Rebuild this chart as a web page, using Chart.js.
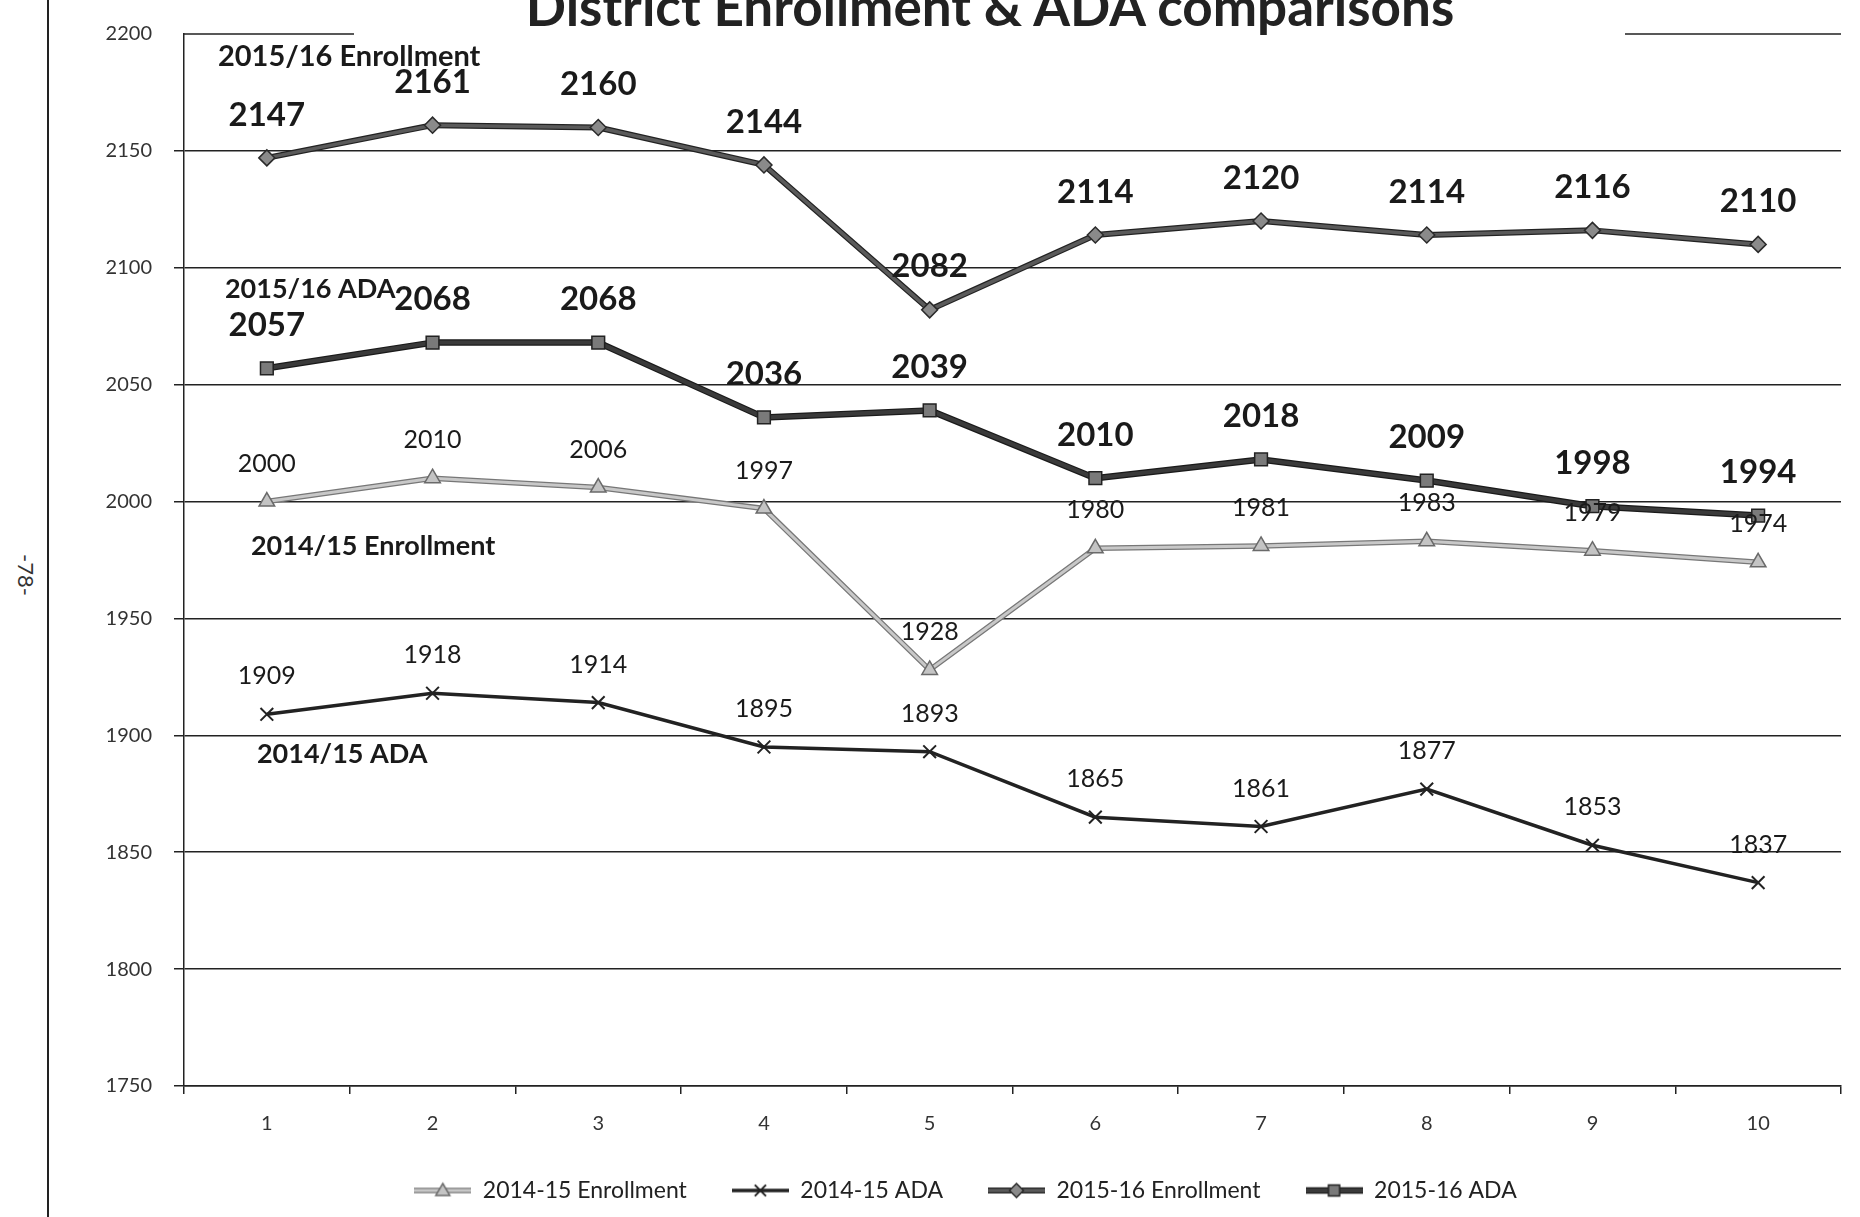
<!DOCTYPE html>
<html><head><meta charset="utf-8">
<script src="https://cdn.jsdelivr.net/npm/chart.js@4.4.1/dist/chart.umd.min.js"></script>
<style>
html,body{margin:0;padding:0;background:#fff;overflow:hidden;}
#wrap{position:relative;width:1860px;height:1217px;overflow:hidden;}
#title{position:absolute;left:60px;top:-20px;width:1860px;text-align:center;font:bold 53px Lato;line-height:52px;color:#222;white-space:nowrap;}
#page{position:absolute;left:26px;top:575px;transform:translate(-50%,-50%) rotate(90deg);font:22px Lato;color:#333;white-space:nowrap;}
#margin{position:absolute;left:47px;top:0;width:2px;height:1217px;background:#222;}
canvas{position:absolute;left:0;top:0;}
</style>
</head><body>
<div id="wrap">
<div id="margin"></div>
<div id="page">-78-</div>
<canvas id="c" width="1860" height="1217"></canvas>
<div id="title">District Enrollment &amp; ADA comparisons</div>
</div>
<script>
const categories = ['1','2','3','4','5','6','7','8','9','10'];
const enrollment1415 = [2000, 2010, 2006, 1997, 1928, 1980, 1981, 1983, 1979, 1974];
const ada1415        = [1909, 1918, 1914, 1895, 1893, 1865, 1861, 1877, 1853, 1837];
const enrollment1516 = [2147, 2161, 2160, 2144, 2082, 2114, 2120, 2114, 2116, 2110];
const ada1516        = [2057, 2068, 2068, 2036, 2039, 2010, 2018, 2009, 1998, 1994];
const seriesNames = ['2014-15 Enrollment', '2014-15 ADA', '2015-16 Enrollment', '2015-16 ADA'];
const seriesNotes = ['2014/15 Enrollment', '2014/15 ADA', '2015/16 Enrollment', '2015/16 ADA'];
const yMin = 1750, yMax = 2200, yStep = 50;

Chart.defaults.font.family = 'Lato';
Chart.defaults.color = '#222';

const styles = [
  {line:'#c8c8c8', edgeLine:'#777', width:3, point:'triangle', r:9, fill:'#c4c4c4', edge:'#6a6a6a', bw:1.5, font:'25px Lato', off:38},
  {line:'#222', edgeLine:null, width:3.5, point:'crossRot', r:9, fill:'#222', edge:'#222', bw:2, font:'25px Lato', off:38},
  {line:'#5a5a5a', edgeLine:'#222', width:3.5, point:'rectRot', r:8, fill:'#8a8a8a', edge:'#2a2a2a', bw:1.5, font:'bold 33px Lato', off:43},
  {line:'#3a3a3a', edgeLine:'#1a1a1a', width:4, point:'rect', r:9, fill:'#7a7a7a', edge:'#222', bw:1.5, font:'bold 33px Lato', off:43}
];
const seriesData = [enrollment1415, ada1415, enrollment1516, ada1516];

function makeIcon(s){
  const c = document.createElement('canvas');
  c.width = 57; c.height = 22;
  const g = c.getContext('2d');
  if (s.edgeLine) { g.strokeStyle = s.edgeLine; g.lineWidth = s.width + 2.5; g.beginPath(); g.moveTo(0,11); g.lineTo(57,11); g.stroke(); }
  g.strokeStyle = s.line; g.lineWidth = s.width;
  g.beginPath(); g.moveTo(0,11); g.lineTo(57,11); g.stroke();
  g.fillStyle = s.fill; g.strokeStyle = s.edge; g.lineWidth = s.bw;
  g.beginPath();
  const r = 7;
  if (s.point === 'triangle') { g.moveTo(28.5,11-r); g.lineTo(28.5+r,11+r*0.7); g.lineTo(28.5-r,11+r*0.7); g.closePath(); g.fill(); g.stroke(); }
  else if (s.point === 'rectRot') { g.moveTo(28.5,11-r); g.lineTo(28.5+r,11); g.lineTo(28.5,11+r); g.lineTo(28.5-r,11); g.closePath(); g.fill(); g.stroke(); }
  else if (s.point === 'rect') { g.rect(28.5-r*0.8,11-r*0.8,r*1.6,r*1.6); g.fill(); g.stroke(); }
  else { g.strokeStyle = s.edge; g.lineWidth = 2; g.moveTo(28.5-r*0.8,11-r*0.8); g.lineTo(28.5+r*0.8,11+r*0.8); g.moveTo(28.5+r*0.8,11-r*0.8); g.lineTo(28.5-r*0.8,11+r*0.8); g.stroke(); }
  return c;
}
const icons = styles.map(makeIcon);

const datasets = seriesData.map((d,i)=>({
  label: seriesNames[i],
  data: d,
  borderColor: styles[i].line,
  borderWidth: styles[i].width,
  pointStyle: styles[i].point,
  pointRadius: styles[i].r,
  pointBackgroundColor: styles[i].fill,
  pointBorderColor: styles[i].edge,
  pointBorderWidth: styles[i].bw,
  tension: 0,
  fill: false,
  clip: false
}));

const notePositions = [
  {series:2, x:-0.295, y:2190.5, size:29},
  {series:3, x:-0.253, y:2091, size:27},
  {series:0, x:-0.096, y:1981, size:27},
  {series:1, x:-0.06, y:1892, size:27}
];

const overlay = {
  id:'overlay',
  beforeDatasetsDraw(chart){
    const {ctx, chartArea:a, scales:{y}} = chart;
    const py = y.getPixelForValue(yMax);
    ctx.save();
    ctx.strokeStyle = '#222'; ctx.lineWidth = 1.5;
    ctx.beginPath();
    ctx.moveTo(a.left, py); ctx.lineTo(a.left+170, py);
    ctx.moveTo(a.right-216, py); ctx.lineTo(a.right, py);
    ctx.stroke();
    ctx.restore();
  },
  beforeDatasetDraw(chart, args){
    const s = styles[args.index];
    if (!s.edgeLine) return;
    const pts = args.meta.data;
    const ctx = chart.ctx;
    ctx.save();
    ctx.strokeStyle = s.edgeLine; ctx.lineWidth = s.width + 2.5; ctx.lineJoin = 'round';
    ctx.beginPath();
    pts.forEach((p,j)=>{ if (j===0) ctx.moveTo(p.x,p.y); else ctx.lineTo(p.x,p.y); });
    ctx.stroke();
    ctx.restore();
  },
  afterDatasetsDraw(chart){
    const {ctx, scales:{x,y}} = chart;
    ctx.save();
    ctx.fillStyle = '#1a1a1a';
    ctx.textAlign = 'center'; ctx.textBaseline = 'middle';
    chart.data.datasets.forEach((ds,i)=>{
      const meta = chart.getDatasetMeta(i);
      ctx.font = styles[i].font;
      meta.data.forEach((pt,j)=>{
        ctx.fillText(String(ds.data[j]), pt.x, pt.y - styles[i].off);
      });
    });
    ctx.textAlign = 'left';
    notePositions.forEach(n=>{
      ctx.font = 'bold ' + n.size + 'px Lato';
      ctx.fillText(seriesNotes[n.series], x.getPixelForValue(n.x), y.getPixelForValue(n.y));
    });
    ctx.restore();
  }
};

new Chart(document.getElementById('c'), {
  type:'line',
  data:{labels:categories, datasets},
  options:{
    responsive:false,
    animation:false,
    layout:{padding:{top:24, right:19, left:90, bottom:5}},
    plugins:{
      tooltip:{enabled:false},
      legend:{
        position:'bottom',
        labels:{
          usePointStyle:true,
          pointStyleWidth:57,
          boxHeight:22,
          padding:45,
          font:{size:23},
          color:'#222',
          generateLabels(chart){
            return chart.data.datasets.map((ds,i)=>({
              text: ds.label, pointStyle: icons[i], fillStyle:'rgba(0,0,0,0)',
              strokeStyle:'rgba(0,0,0,0)', lineWidth:0, hidden:false, datasetIndex:i, fontColor:'#222'
            }));
          }
        }
      }
    },
    scales:{
      x:{
        offset:true,
        grid:{display:true, drawOnChartArea:false, drawTicks:true, tickLength:8, offset:true, color:'#222', lineWidth:1.5},
        border:{color:'#222', width:1.5},
        ticks:{font:{size:20}, color:'#333', padding:18},
        afterFit(s){ s.height = 48; }
      },
      y:{
        min:yMin, max:yMax,
        grid:{color:(c)=> c.tick && c.tick.value === yMax ? 'rgba(0,0,0,0)' : '#222', lineWidth:1.5, tickLength:10, drawTicks:true},
        border:{color:'#222', width:1.5},
        ticks:{stepSize:yStep, font:{size:20}, color:'#333', padding:22, callback:(v)=>String(v)},
        afterFit(s){ s.width = 94; }
      }
    }
  },
  plugins:[overlay]
});
</script>
</body></html>
